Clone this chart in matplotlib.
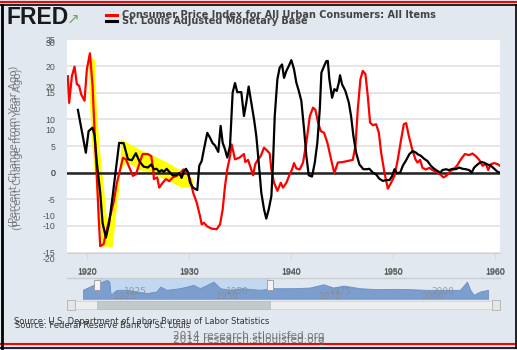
import matplotlib.pyplot as plt
from matplotlib.patches import Rectangle
from matplotlib.lines import Line2D

plt.rcParams['axes.unicode_minus'] = False

# CPI, percent change from year ago (left scale, -15..25)
cpi_years = [1918.08, 1918.21, 1918.48, 1918.74, 1918.97, 1919.19, 1919.39, 1919.72, 1919.95, 1920.25,
             1920.51, 1920.77, 1920.93, 1921.10, 1921.26, 1921.59, 1921.92, 1922.24, 1922.57, 1922.90,
             1923.22, 1923.49, 1923.78, 1924.20, 1924.47, 1924.76, 1925.09, 1925.42, 1925.94, 1926.27,
             1926.46, 1926.53, 1926.86, 1927.05, 1927.39, 1927.71, 1928.04, 1928.37, 1928.76, 1929.16,
             1929.41, 1929.74, 1930.07, 1930.39, 1930.73, 1931.05, 1931.22, 1931.44, 1931.77, 1932.20,
             1932.69, 1933.02, 1933.28, 1933.51, 1933.73, 1934.00, 1934.16, 1934.49, 1934.91, 1935.11,
             1935.37, 1935.50, 1935.77, 1936.03, 1936.26, 1936.48, 1936.75, 1937.01, 1937.34, 1937.66,
             1937.90, 1938.06, 1938.32, 1938.65, 1938.98, 1939.20, 1939.53, 1939.86, 1940.09, 1940.28,
             1940.51, 1940.84, 1941.17, 1941.49, 1941.83, 1942.15, 1942.38, 1942.64, 1942.91, 1943.23,
             1943.56, 1943.92, 1944.24, 1944.58, 1945.07, 1945.56, 1946.05, 1946.31, 1946.54, 1946.80,
             1947.03, 1947.29, 1947.52, 1947.75, 1948.02, 1948.34, 1948.61, 1948.83, 1949.16, 1949.49,
             1949.81, 1950.14, 1950.47, 1950.80, 1951.06, 1951.29, 1951.55, 1951.88, 1952.20, 1952.40,
             1952.66, 1952.89, 1953.22, 1953.55, 1953.87, 1954.20, 1954.63, 1954.95, 1955.28, 1955.61,
             1955.93, 1956.27, 1956.66, 1957.05, 1957.48, 1957.80, 1958.13, 1958.46, 1958.78, 1959.12,
             1959.34, 1959.61, 1959.93, 1960.26, 1960.49]
cpi_values = [18.1, 13.1, 18.1, 19.9, 16.6, 16.3, 14.7, 13.5, 19.4, 22.4,
              16.3, 5.0, -0.6, -8.1, -13.8, -13.4, -10.6, -8.1, -5.6, -1.9,
              0.6, 2.8, 2.5, 0.6, -0.6, -0.3, 1.6, 3.5, 3.5, 3.1,
              0.6, -1.2, -0.9, -2.8, -1.9, -1.2, -1.6, -0.9, -0.6, 0.0,
              0.6, 0.3, -1.2, -3.8, -5.6, -8.1, -9.7, -9.4, -10.1, -10.5,
              -10.6, -9.7, -6.9, -2.5, 0.6, 3.1, 5.3, 2.5, 2.8, 3.1,
              3.5, 2.0, 2.4, 0.9, -0.5, 1.6, 2.5, 3.1, 4.7, 4.1,
              3.6, 0.6, -1.9, -3.4, -1.9, -2.8, -1.9, -0.3, 0.6, 1.8,
              0.8, 0.6, 1.9, 5.6, 10.6, 12.2, 11.8, 9.4, 7.8, 7.5,
              5.6, 2.5, -0.1, 1.9, 2.0, 2.2, 2.4, 5.0, 11.9, 17.5,
              19.1, 18.5, 14.4, 9.4, 8.9, 9.1, 7.5, 3.8, 0.0, -3.0,
              -1.9, -0.6, 2.5, 6.3, 9.1, 9.3, 6.9, 4.4, 2.5, 1.9,
              2.4, 0.9, 0.6, 0.9, 0.5, 0.2, -0.3, -0.9, -0.5, 0.3,
              0.6, 1.3, 2.5, 3.5, 3.3, 3.6, 3.1, 2.4, 1.3, 1.6,
              0.5, 1.6, 1.8, 1.6, 1.3]

# St. Louis adjusted monetary base, percent change from year ago (second scale, -20..30)
base_years = [1919.07, 1919.46, 1919.85, 1920.12, 1920.51, 1920.71, 1920.93, 1921.26, 1921.49, 1921.82,
              1922.14, 1922.48, 1922.80, 1923.12, 1923.56, 1923.98, 1924.37, 1924.76, 1925.09, 1925.52,
              1925.94, 1926.27, 1926.53, 1926.80, 1927.05, 1927.29, 1927.51, 1927.78, 1928.04, 1928.37,
              1928.69, 1929.02, 1929.25, 1929.48, 1929.68, 1929.90, 1930.07, 1930.39, 1930.79, 1930.98,
              1931.22, 1931.44, 1931.77, 1932.03, 1932.30, 1932.52, 1932.85, 1933.08, 1933.28, 1933.51,
              1933.73, 1934.00, 1934.26, 1934.49, 1934.71, 1934.98, 1935.11, 1935.37, 1935.60, 1935.83,
              1936.09, 1936.36, 1936.58, 1936.82, 1937.07, 1937.34, 1937.56, 1937.80, 1938.06, 1938.22,
              1938.39, 1938.65, 1938.88, 1939.11, 1939.30, 1939.53, 1939.76, 1940.02, 1940.28, 1940.51,
              1940.75, 1941.00, 1941.27, 1941.49, 1941.73, 1942.05, 1942.32, 1942.57, 1942.81, 1942.97,
              1943.23, 1943.46, 1943.60, 1943.75, 1944.02, 1944.24, 1944.48, 1944.68, 1944.80, 1945.00,
              1945.32, 1945.66, 1945.88, 1946.11, 1946.38, 1946.70, 1947.09, 1947.43, 1947.68, 1948.02,
              1948.34, 1948.66, 1949.00, 1949.32, 1949.65, 1949.91, 1950.14, 1950.37, 1950.70, 1950.96,
              1951.29, 1951.61, 1951.94, 1952.27, 1952.40, 1952.73, 1953.06, 1953.38, 1953.71, 1954.04,
              1954.36, 1954.63, 1954.85, 1955.19, 1955.51, 1955.84, 1956.17, 1956.49, 1956.82, 1957.15,
              1957.48, 1957.71, 1957.97, 1958.30, 1958.63, 1958.95, 1959.27, 1959.61, 1959.93, 1960.26,
              1960.49]
base_values = [14.5, 9.6, 4.6, 9.6, 10.4, 8.5, 2.3, -4.6, -11.6, -15.0,
               -11.6, -5.4, 0.8, 6.9, 6.8, 3.1, 2.9, 4.5, 2.7, 1.4,
               1.2, 1.9, 0.8, 0.9, 0.2, 0.6, 0.2, 0.9, 0.2, -0.6,
               -0.6, -0.1, -1.2, 0.4, 0.9, 0.0, -2.3, -3.5, -4.0, 1.6,
               2.7, 5.4, 9.2, 8.1, 6.8, 6.3, 4.8, 10.8, 6.9, 5.4,
               3.5, 6.2, 18.5, 20.7, 18.6, 18.6, 18.6, 13.1, 16.2, 19.9,
               16.2, 12.3, 8.5, 2.3, -4.6, -8.5, -10.6, -8.5, -5.4, 2.3,
               13.1, 21.6, 24.3, 25.0, 21.9, 23.5, 24.6, 26.0, 23.9, 20.8,
               18.9, 16.6, 10.0, 3.9, -0.6, -0.9, 2.3, 6.9, 14.6, 23.1,
               24.6, 25.8, 25.8, 21.6, 17.3, 19.3, 18.9, 20.8, 22.5, 20.4,
               18.9, 16.2, 13.1, 8.5, 4.6, 1.9, 0.8, 0.8, 0.9, 0.0,
               -0.4, -1.4, -1.9, -1.7, -1.7, -0.8, 0.8, -0.1, 0.0, 1.6,
               2.9, 4.3, 5.0, 4.6, 4.3, 3.9, 3.2, 2.7, 1.6, 0.9,
               0.4, 0.0, 0.6, 0.8, 0.6, 0.9, 0.8, 1.2, 0.9, 0.8,
               0.6, 0.0, 1.2, 1.9, 2.5, 2.3, 1.9, 1.6, 0.9, 0.2,
               0.0]

# yellow highlight drawn on the chart (left scale)
hl_years = [1920.05, 1920.25, 1920.44, 1920.74, 1921.13, 1921.52, 1922.50, 1922.80, 1923.19, 1923.29,
            1923.29, 1925.16, 1927.12, 1928.40, 1929.38, 1930.27, 1930.46, 1930.27, 1929.38, 1927.12,
            1925.16, 1923.88, 1923.29, 1922.90, 1922.41, 1922.11, 1921.82, 1921.52, 1921.23, 1920.93,
            1920.74]
hl_values = [22.1, 13.6, 6.1, -0.6, -8.1, -13.9, -13.9, -8.1, -2.5, 4.3,
             6.3, 4.3, 2.6, 1.3, 0.1, -1.0, -1.9, -2.7, -2.9, -0.8,
             0.5, 2.0, 0.5, -3.3, -7.9, -10.4, -7.0, -0.6, 4.3, 11.8,
             21.1]

# navigator mini chart (whole history)
nav_years = [1912.2, 1914.8, 1915.8, 1918.1, 1918.7, 1919.0, 1920.5, 1922.9, 1925.4, 1927.8,
             1930.2, 1931.1, 1932.7, 1935.9, 1939.2, 1940.8, 1944.1, 1945.7, 1948.1, 1951.0,
             1955.4, 1958.7, 1963.6, 1967.6, 1970.9, 1973.3, 1975.8, 1979.8, 1983.9, 1988.0,
             1992.0, 1996.1, 2000.1, 2004.2, 2005.9, 2006.7, 2007.5, 2009.1, 2011.1]
nav_values = [27, 42, 47, 57, 52, 12, 27, 27, 22, 17,
              22, 37, 27, 32, 42, 32, 52, 32, 27, 32,
              27, 32, 32, 34, 44, 34, 40, 32, 29, 30,
              29, 27, 27, 27, 52, 27, 12, 22, 27]
nav_labels = [1925, 1950, 1975, 2000]

year_ticks = [1920, 1930, 1940, 1950, 1960]
cpi_ticks = [-15, -10, -5, 0, 5, 10, 15, 20, 25]
base_ticks = [-10, 0, 10, 20, 30]

W, H = 517, 350
bg = '#e1e8ef'
grey = '#555555'
tick_font = 'Liberation Sans'
tick_size = 6.3


def fx(px):
    return px / W


def fy(py):
    return 1 - py / H


fig = plt.figure(figsize=(W / 100, H / 100), dpi=100, facecolor=bg)

# main plot
ax = fig.add_axes([fx(67), fy(253), fx(500) - fx(67), fy(38) - fy(253)])
ax.set_facecolor('white')
ax.set_xlim(1918.0, 1960.5)
ax.set_ylim(-15.07, 25.27)
ax.fill(hl_years, hl_values, color='#ffff00', lw=0, zorder=1)
ax.axhline(0, color='#222222', lw=1.8, zorder=2)
ax.plot(cpi_years, cpi_values, color='#ff0000', lw=1.6, zorder=3)
ax.set_yticks(cpi_ticks)
ax.set_xticks(year_ticks)
ax.set_xticklabels([str(y) for y in year_ticks])
ax.grid(axis='y', color='#e4e4e4', lw=1.3, zorder=0)
ax.set_axisbelow(True)
ax.tick_params(axis='y', length=0, pad=8.5, labelsize=tick_size, labelcolor=grey)
ax.tick_params(axis='x', length=4, color='#d8d8d8', pad=7, labelsize=tick_size, labelcolor=grey)
for s in ax.spines.values():
    s.set_visible(False)
ax.spines['bottom'].set_visible(True)
ax.spines['bottom'].set_color('#d0d0d0')

# ghosted copy of the year labels
sec = ax.secondary_xaxis('bottom')
sec.set_xticks(year_ticks)
sec.set_xticklabels([str(y) for y in year_ticks])
sec.tick_params(length=0, pad=10.2, labelsize=tick_size, labelcolor=grey)
sec.spines['bottom'].set_visible(False)

# second scale for the monetary base
ax2 = ax.twinx()
ax2.set_ylim(-18.55, 31.11)
ax2.plot(base_years, base_values, color='black', lw=1.6, zorder=4)
ax2.yaxis.tick_left()
ax2.set_yticks(base_ticks)
ax2.tick_params(axis='y', length=0, pad=8.5, labelsize=tick_size, labelcolor=grey)
ax2.text(-0.028, -20, '-20', transform=ax2.get_yaxis_transform(), ha='right', va='center',
         fontsize=tick_size, color=grey, clip_on=False, family=tick_font)
for s in ax2.spines.values():
    s.set_visible(False)

for a in (ax, ax2, sec):
    for lab in a.get_xticklabels() + a.get_yticklabels():
        lab.set_fontfamily(tick_font)

# y label (ghosted)
for dx, dy in [(14, 146), (18, 149)]:
    fig.text(fx(dx), fy(dy), '(Percent Change from Year Ago)', rotation=90, ha='center', va='center',
             fontsize=7.3, color='#666666', alpha=0.8)

# header: logo and legend
fig.text(fx(6), fy(18), 'FRED', fontsize=16.5, fontweight='heavy', color='#1a1a1a', va='center',
         family='Liberation Sans')
fig.text(fx(67), fy(19), '\u2197', fontsize=11, color='#7aa36a', va='center')
fig.add_artist(Line2D([fx(106), fx(117)], [fy(15), fy(15)], color='#ff0000', lw=2.2))
fig.add_artist(Line2D([fx(106), fx(117)], [fy(20.5), fy(20.5)], color='black', lw=2.2))
fig.text(fx(122), fy(15), 'Consumer Price Index for All Urban Consumers: All Items', fontsize=7,
         fontweight='bold', color='#444444', va='center')
fig.text(fx(122), fy(20.5), 'St. Louis Adjusted Monetary Base', fontsize=7,
         fontweight='bold', color='#444444', va='center')

# navigator
fig.add_artist(Line2D([fx(67), fx(500)], [fy(278), fy(278)], color='#c8cdd2', lw=1))
nav = fig.add_axes([fx(82.7), fy(298.7), fx(488.3) - fx(82.7), fy(279) - fy(298.7)])
nav.patch.set_visible(False)
nav.set_xlim(1912.2, 2011.1)
nav.set_ylim(0, 60)
nav.axvspan(1915.6, 1957.8, color='#c2d7f0', lw=0, zorder=0)
nav.fill_between(nav_years, nav_values, color='#7c9ecf', lw=0.6, edgecolor='#6b8fc4', zorder=1)
for yr in nav_labels:
    nav.text(yr - 2.5, 8, str(yr), fontsize=6.5, color='#8a8a8a', ha='center', va='center', alpha=0.8)
    nav.text(yr, 22, str(yr), fontsize=6.5, color='#8a8a8a', ha='center', va='center', alpha=0.8)
for yr in [1915.6, 1957.8]:
    nav.add_patch(Rectangle((yr - 0.7, 27), 1.4, 30, facecolor='#f4f4f4', edgecolor='#999999', lw=0.6,
                            zorder=3))
nav.axis('off')

# scrollbar
fig.patches.append(Rectangle((fx(67), fy(309)), fx(500) - fx(67), fy(301) - fy(309), transform=fig.transFigure,
                             facecolor='#eeeeee', edgecolor='#d4d4d4', lw=0.6))
fig.patches.append(Rectangle((fx(97), fy(309)), fx(270) - fx(97), fy(301) - fy(309), transform=fig.transFigure,
                             facecolor='#c3c8cd', edgecolor='#b8bcc0', lw=0.6))
for bx in [67, 492]:
    fig.patches.append(Rectangle((fx(bx), fy(310)), fx(8), fy(300) - fy(310), transform=fig.transFigure,
                                 facecolor='#e6e6e6', edgecolor='#b0b0b0', lw=0.6))

# sources and footer
fig.text(fx(14), fy(321), 'Source: U.S. Department of Labor: Bureau of Labor Statistics', fontsize=6.0,
         color='#333333', va='center')
fig.text(fx(15), fy(325), 'Source: Federal Reserve Bank of St. Louis', fontsize=6.0,
         color='#333333', va='center')
for dy in [336, 340]:
    fig.text(fx(249), fy(dy), '2014 research.stlouisfed.org', fontsize=7.6, color='#666666',
             ha='center', va='center', alpha=0.85)

# frame
fig.add_artist(Line2D([0, 1], [fy(1.5), fy(1.5)], color='#ff0000', lw=1.5))
fig.add_artist(Line2D([0, 1], [fy(4.5), fy(4.5)], color='black', lw=1.2))
fig.add_artist(Line2D([0, 1], [fy(343.5), fy(343.5)], color='#ff0000', lw=1.5))
fig.add_artist(Line2D([0, 1], [fy(348), fy(348)], color='black', lw=1.2))
fig.add_artist(Line2D([fx(1.5), fx(1.5)], [fy(4.5), fy(348)], color='black', lw=2))
fig.add_artist(Line2D([fx(515.5), fx(515.5)], [fy(4.5), fy(348)], color='black', lw=1.2))

fig.savefig('out.png', dpi=100, facecolor=bg)
